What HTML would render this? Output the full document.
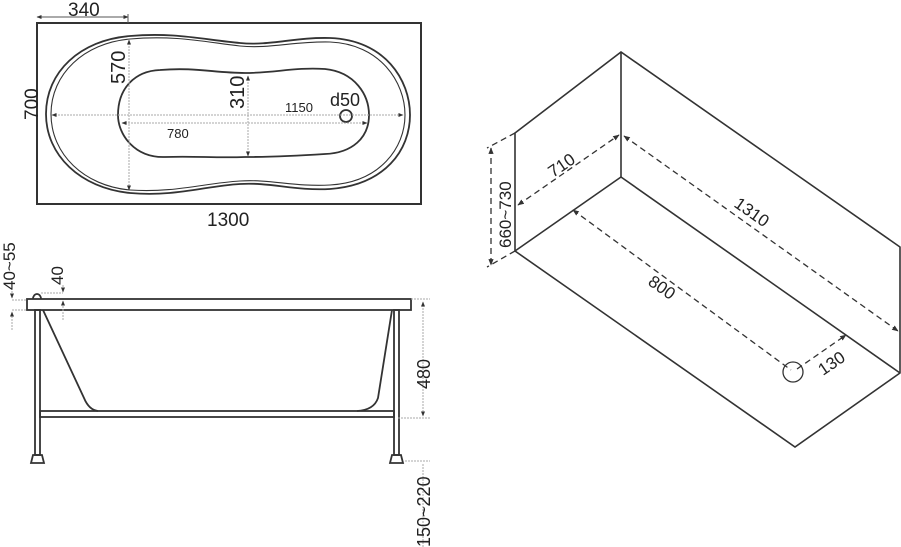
<!DOCTYPE html>
<html><head><meta charset="utf-8"><style>
html,body{margin:0;padding:0;background:#fff;}
svg{display:block;font-family:"Liberation Sans",sans-serif;}
</style></head><body>
<svg width="901" height="547" viewBox="0 0 901 547" xmlns="http://www.w3.org/2000/svg">
<defs>
<marker id="a" viewBox="0 0 10 10" refX="9" refY="5" markerWidth="5" markerHeight="5" orient="auto-start-reverse"><path d="M0,1 L10,5 L0,9 z" fill="#333"/></marker>
</defs>
<!-- TOP VIEW -->
<rect x="37" y="23" width="384" height="181" fill="none" stroke="#333" stroke-width="2"/>
<g fill="none" stroke="#333" stroke-width="1.8">
<path d="M130,36 C175,32 205,40 240,43 C270,46 295,37 330,38 C385,40 410,80 410,115 C410,150 385,185 330,189 C295,191 270,182 240,184 C205,186 175,197 130,193 C80,188 46,155 46,114 C46,72 80,40 130,36 Z"/>
<path d="M130,39 C175,35 205,42 240,46 C270,49 295,41 330,42 C380,44 405,82 405,115 C405,148 380,182 330,185 C295,187 270,179 240,181 C205,183 175,193 130,190 C84,186 51,154 51,114 C51,74 84,43 130,39 Z" stroke-width="1.1"/>
<path d="M160,70 C195,67 215,73 245,73 C275,73 295,67 325,69 C355,72 369,95 369,115 C369,138 352,153 325,154 C295,156 275,157 245,157 C215,158 195,156 165,157 C135,158 118,135 118,115 C118,88 135,71 160,70 Z"/>
<circle cx="346" cy="116" r="6"/>
</g>
<g stroke="#aaa" stroke-width="1" stroke-dasharray="2,1" fill="none">
<line x1="52" y1="115" x2="403" y2="115" marker-start="url(#a)" marker-end="url(#a)"/>
<line x1="122" y1="123" x2="367" y2="123" marker-start="url(#a)" marker-end="url(#a)"/>
<line x1="129" y1="40" x2="129" y2="190" marker-start="url(#a)" marker-end="url(#a)"/>
<line x1="248" y1="76" x2="248" y2="156" marker-start="url(#a)" marker-end="url(#a)"/>
<line x1="37" y1="17" x2="128" y2="17" stroke="#555" stroke-dasharray="none" marker-start="url(#a)" marker-end="url(#a)"/>
<line x1="128" y1="14" x2="128" y2="23" stroke="#555" stroke-dasharray="none"/>
</g>
<g fill="#222">
<text x="68" y="16" font-size="19">340</text>
<text x="207" y="226" font-size="19">1300</text>
<text transform="translate(38,120) rotate(-90)" font-size="19">700</text>
<text transform="translate(125,84) rotate(-90)" font-size="20">570</text>
<text transform="translate(244,109) rotate(-90)" font-size="20">310</text>
<text x="285" y="112" font-size="13">1150</text>
<text x="167" y="138" font-size="13">780</text>
<text x="330" y="106" font-size="18">d50</text>
</g>
<!-- SIDE VIEW -->
<g fill="none" stroke="#333" stroke-width="1.8">
<path d="M33,299 A4,5 0 0 1 41,299"/>
<rect x="27" y="299" width="384" height="11"/>
<rect x="35" y="310" width="5" height="145"/>
<rect x="394" y="310" width="5" height="145"/>
<rect x="40" y="411" width="354" height="6"/>
<path d="M33,455 L42,455 L44,463 L31,463 Z"/>
<path d="M392,455 L401,455 L403,463 L390,463 Z"/>
<path d="M43,310 L84,398 Q89,410 98,411"/>
<path d="M392,310 L378,398 Q374,410 357,411"/>
</g>
<g stroke="#aaa" stroke-width="1" stroke-dasharray="2,1" fill="none">
<line x1="411" y1="299" x2="430" y2="299"/>
<line x1="398" y1="418" x2="430" y2="418"/>
<line x1="405" y1="461" x2="430" y2="461"/>
<line x1="423" y1="302" x2="423" y2="416" marker-start="url(#a)" marker-end="url(#a)"/>
<line x1="423" y1="464" x2="423" y2="547"/>
<line x1="12" y1="300" x2="27" y2="300"/>
<line x1="12" y1="310" x2="27" y2="310"/>
<line x1="12" y1="288" x2="12" y2="298" marker-end="url(#a)"/>
<line x1="12" y1="330" x2="12" y2="312" marker-end="url(#a)"/>
<line x1="41" y1="293" x2="63" y2="293"/>
<line x1="63" y1="285" x2="63" y2="292" marker-end="url(#a)"/>
<line x1="63" y1="320" x2="63" y2="301" marker-end="url(#a)"/>
</g>
<g fill="#222">
<text transform="translate(430,389) rotate(-90)" font-size="18">480</text>
<text transform="translate(430,547) rotate(-90)" font-size="18">150~220</text>
<text transform="translate(15,290) rotate(-90)" font-size="17">40~55</text>
<text transform="translate(63,285) rotate(-90)" font-size="17">40</text>
</g>
<!-- ISO VIEW -->
<g fill="none" stroke="#333" stroke-width="1.6">
<path d="M515,133 L621,52 L900,247 L900,373 L795,447 L515,251 Z"/>
<line x1="621" y1="52" x2="621" y2="177"/>
<line x1="621" y1="177" x2="515" y2="251"/>
<line x1="621" y1="177" x2="900" y2="373"/>
<circle cx="793" cy="372" r="10" stroke-width="1.3"/>
</g>
<g fill="none" stroke="#333" stroke-width="1.3" stroke-dasharray="6,4">
<line x1="515" y1="133" x2="487" y2="148"/>
<line x1="515" y1="251" x2="487" y2="267"/>
<line x1="491" y1="148" x2="491" y2="265" marker-start="url(#a)" marker-end="url(#a)"/>
<line x1="518" y1="205" x2="619" y2="135" marker-start="url(#a)" marker-end="url(#a)"/>
<line x1="624" y1="136" x2="898" y2="331" marker-start="url(#a)" marker-end="url(#a)"/>
<line x1="573" y1="210" x2="791" y2="370" marker-start="url(#a)"/>
<line x1="797" y1="369" x2="846" y2="335" marker-end="url(#a)"/>
</g>
<g fill="#222" font-size="17">
<text transform="translate(553,178) rotate(-34)">710</text>
<text transform="translate(511,248) rotate(-90)">660~730</text>
<text transform="translate(733,206) rotate(35)">1310</text>
<text transform="translate(647,284) rotate(35)">800</text>
<text transform="translate(823,376) rotate(-34)">130</text>
</g>
</svg>
</body></html>
